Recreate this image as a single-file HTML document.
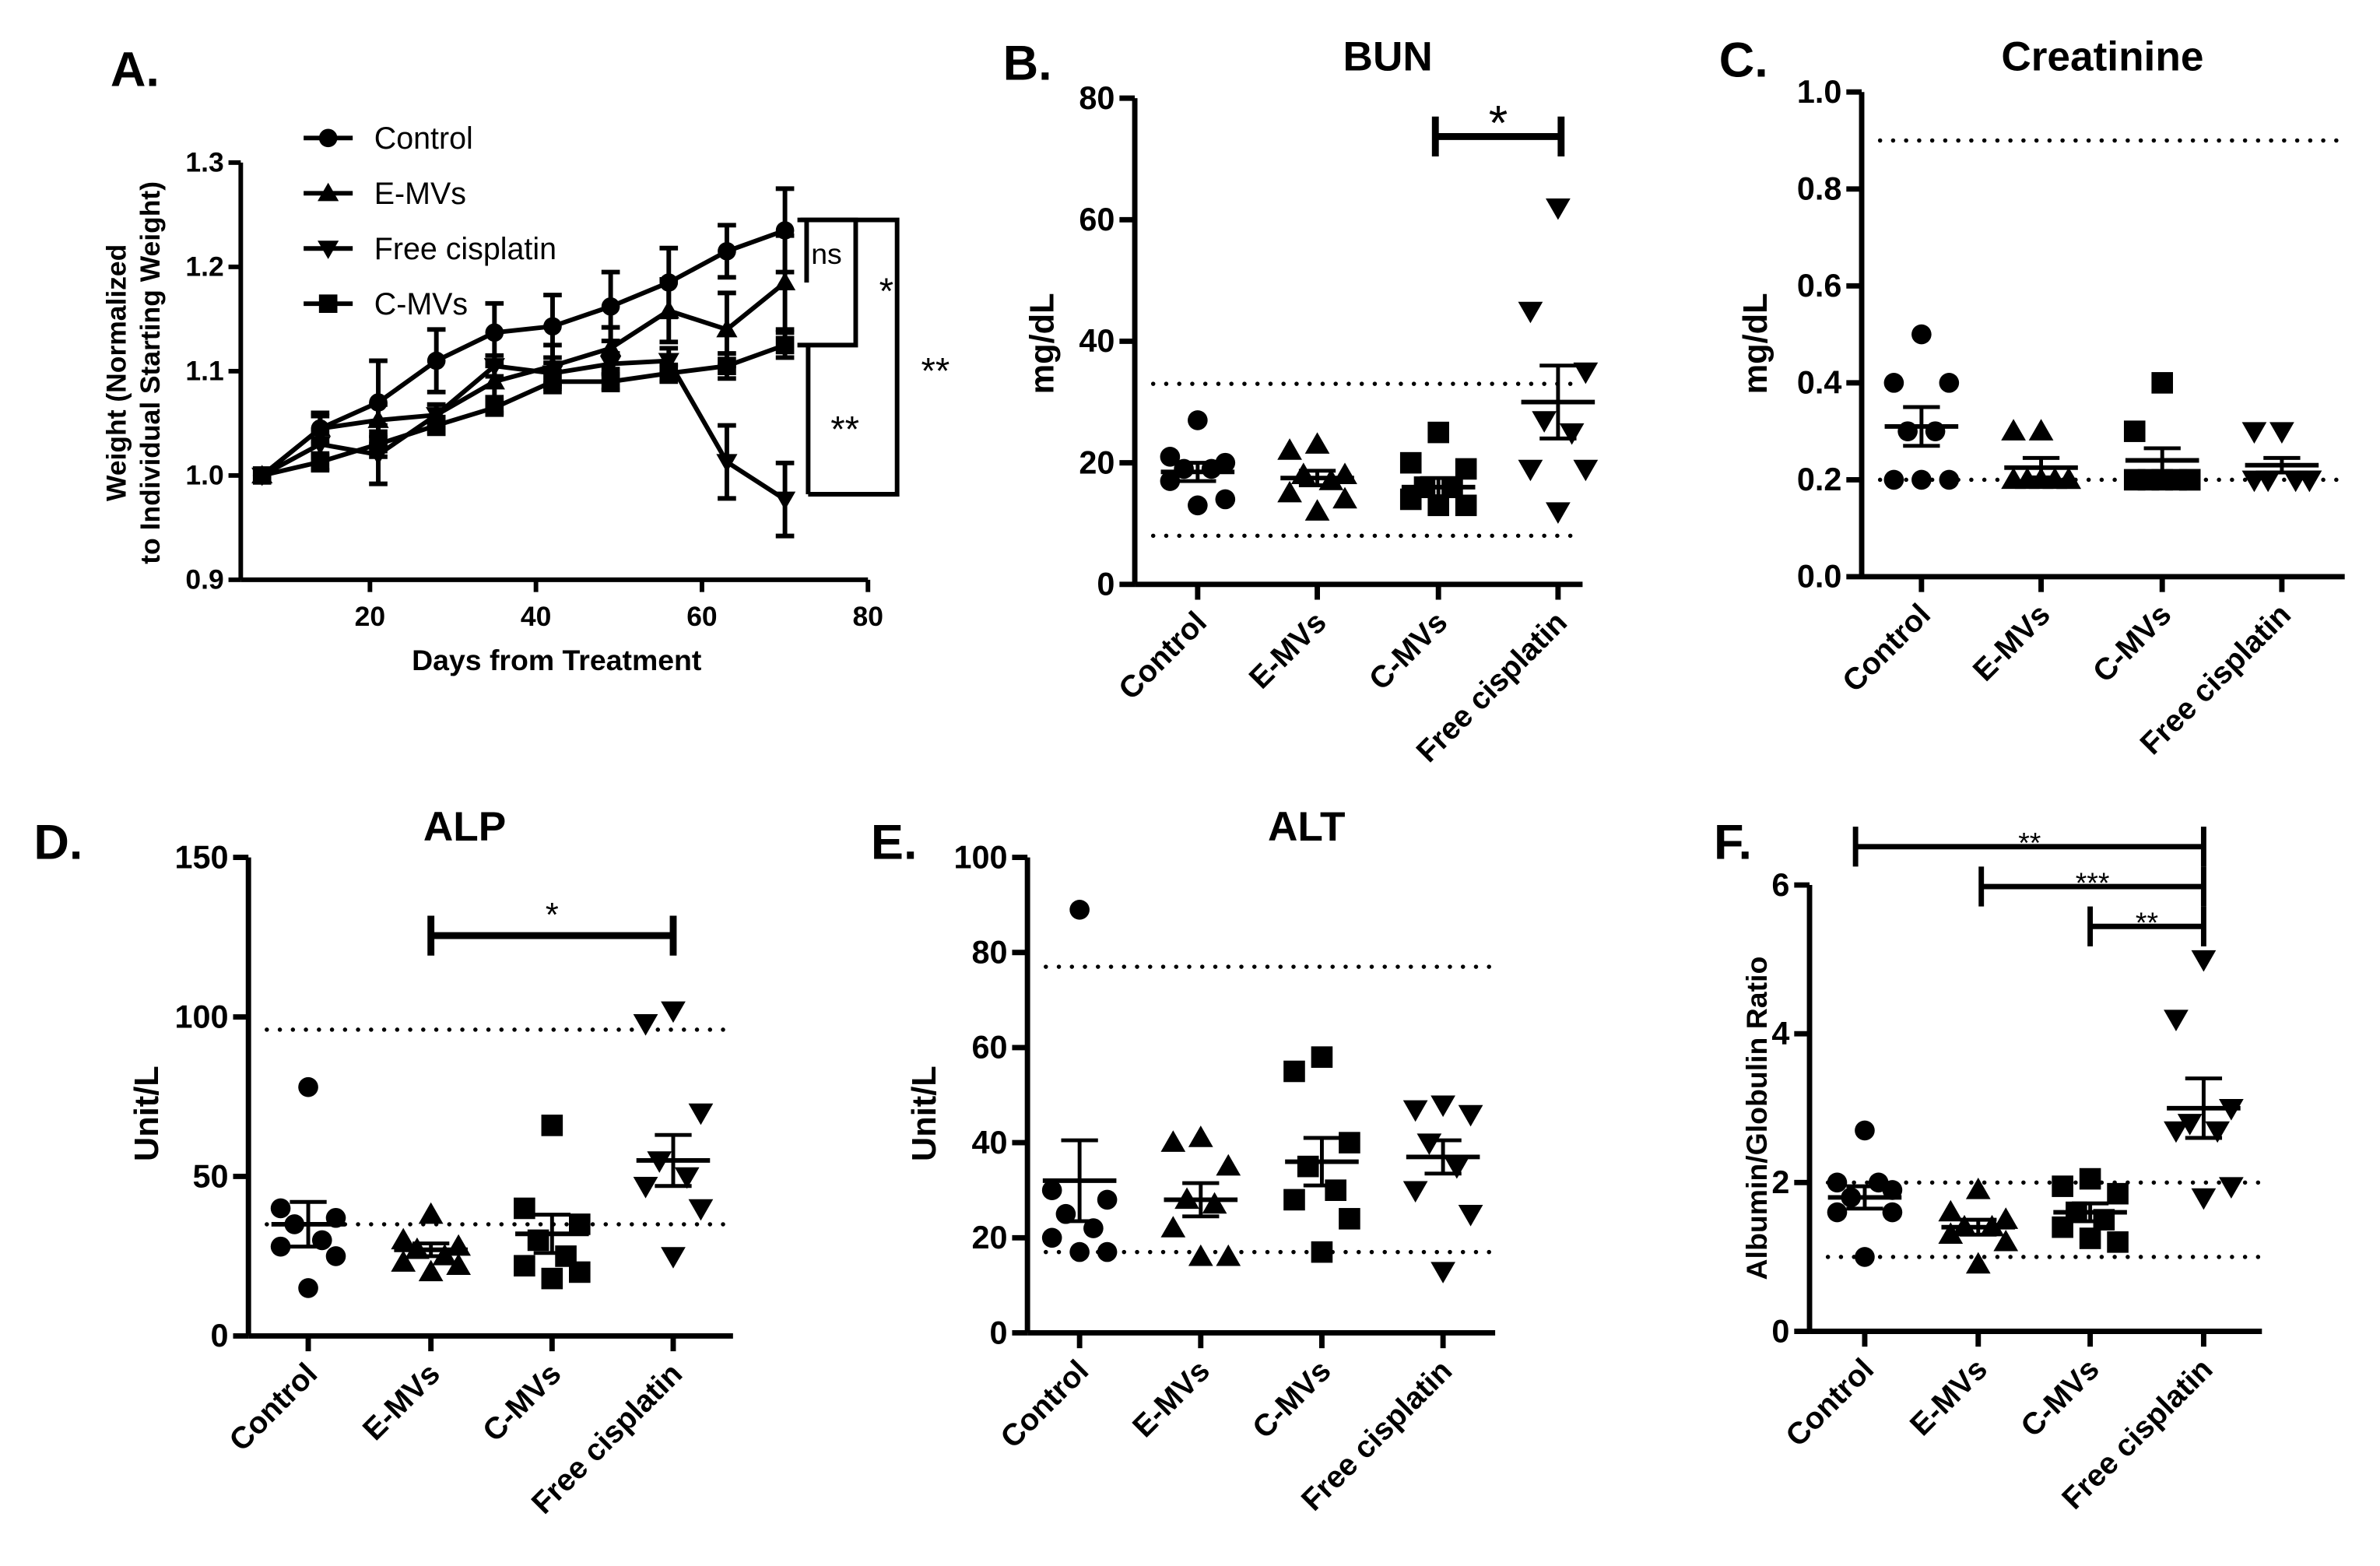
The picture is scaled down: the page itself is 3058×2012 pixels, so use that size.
<!DOCTYPE html>
<html><head><meta charset="utf-8"><style>
html,body{margin:0;padding:0;background:#fff;}
svg{display:block;font-family:"Liberation Sans",Arial,sans-serif;font-weight:bold;}
</style></head><body>
<svg id="fig" xmlns="http://www.w3.org/2000/svg" width="3058" height="2012" viewBox="0 0 1552 1021" preserveAspectRatio="none"></svg>
<script>
// ---------- Panel A data ----------
const daysA = [7,14,21,28,35,42,49,56,63,70];
const seriesNamesA = ["Control","E-MVs","Free cisplatin","C-MVs"];
const controlA = [1.0,1.045,1.07,1.11,1.137,1.143,1.162,1.185,1.215,1.235];
const controlErrA = [0,0.015,0.04,0.03,0.028,0.03,0.033,0.033,0.025,0.04];
const emvA = [1.0,1.045,1.053,1.058,1.09,1.105,1.122,1.158,1.14,1.185];
const emvErrA = [0,0.012,0.015,0.01,0.015,0.02,0.02,0.03,0.035,0.045];
const freeA = [1.0,1.03,1.02,1.058,1.105,1.098,1.107,1.11,1.013,0.977];
const freeErrA = [0,0.012,0.028,0.01,0.01,0.01,0.01,0.012,0.035,0.035];
const cmvA = [1.0,1.013,1.03,1.048,1.065,1.09,1.09,1.098,1.105,1.125];
const cmvErrA = [0,0.008,0.012,0.008,0.005,0.01,0.008,0.008,0.012,0.012];
const yTicksA = [0.9,1.0,1.1,1.2,1.3];
const xTicksA = [20,40,60,80];

// ---------- Scatter panel data ----------
const groups = ["Control","E-MVs","C-MVs","Free cisplatin"];
const bunControl = [27,21,20,19,19,17,14,13];
const bunEmv = [23,22,18,18,17,15,14,12];
const bunCmv = [25,20,19,16,16,14,13,13];
const bunFree = [62,45,35,27,25,19,19,12];
const bunMean = [18.5,17.5,16,30];
const bunSem = [1.5,1.2,1.5,6];
const creControl = [0.5,0.4,0.4,0.3,0.3,0.2,0.2,0.2];
const creEmv = [0.3,0.3,0.2,0.2,0.2,0.2,0.2,0.2];
const creCmv = [0.4,0.3,0.2,0.2,0.2,0.2,0.2,0.2];
const creFree = [0.3,0.3,0.2,0.2,0.2,0.2,0.2];
const creMean = [0.31,0.225,0.24,0.23];
const creSem = [0.04,0.02,0.025,0.015];
const alpControl = [78,40,37,35,30,28,25,15];
const alpEmv = [38,30,28,27,25,23,22,20];
const alpCmv = [66,40,35,30,25,22,20,18];
const alpFree = [102,98,70,55,50,47,40,25];
const alpMean = [35,27,32,55];
const alpSem = [7,2,6,8];
const altControl = [89,30,28,25,22,20,17,17];
const altEmv = [41,40,35,28,27,22,16,16];
const altCmv = [58,55,40,35,30,28,24,17];
const altFree = [48,47,46,40,35,30,25,13];
const altMean = [32,28,36,37];
const altSem = [8.5,3.5,5,3.5];
const agControl = [2.7,2.0,1.9,1.8,2.0,1.6,1.6,1.0];
const agEmv = [1.9,1.6,1.5,1.4,1.4,1.3,1.2,0.9];
const agCmv = [2.05,1.95,1.85,1.6,1.5,1.4,1.2,1.25];
const agFree = [5.0,4.2,3.0,2.8,2.7,2.7,1.95,1.8];
const agMean = [1.8,1.4,1.6,3.0];
const agSem = [0.15,0.1,0.12,0.4];

const svg = document.getElementById('fig');
const NS = 'http://www.w3.org/2000/svg';
function mk(tag, attrs, parent, text){
  const e = document.createElementNS(NS, tag);
  for (const k in attrs) e.setAttribute(k, attrs[k]);
  if (text !== undefined) e.textContent = text;
  (parent||svg).appendChild(e);
  return e;
}
function line(x1,y1,x2,y2,w,p,extra){return mk('line',Object.assign({x1,y1,x2,y2,stroke:'#000','stroke-width':w},extra||{}),p);}
function txt(x,y,s,size,p,extra){return mk('text',Object.assign({x,y,'font-size':size,fill:'#000','text-anchor':'middle'},extra||{}),p,s);}
function marker(shape,x,y,r,p){
  if(shape==='circle') return mk('circle',{cx:x,cy:y,r:r,fill:'#000'},p);
  if(shape==='square') return mk('rect',{x:x-r,y:y-r,width:2*r,height:2*r,fill:'#000'},p);
  if(shape==='up') return mk('polygon',{points:`${x},${y-r*1.15} ${x-r*1.15},${y+r*0.85} ${x+r*1.15},${y+r*0.85}`,fill:'#000'},p);
  return mk('polygon',{points:`${x},${y+r*1.15} ${x-r*1.15},${y-r*0.85} ${x+r*1.15},${y-r*0.85}`,fill:'#000'},p);
}
function fmt(v,dec){return v.toFixed(dec);}

// ---------- Panel A ----------
(function(){
  const g = mk('g',{});  
  const X0=157, X1=566, YB=378, YT=106;
  const xs = d => 133 + d*(566-133)/80;
  const ys = v => YB - (v-0.9)/(0.4)*(YB-YT);
  const lbl = txt(88,56,'A.',32,g);  
  const ya = line(X0,YT,X0,YB,3,g);  
  const xa = line(X0,YB,X1,YB,3,g);  
  yTicksA.forEach(v=>{const y=ys(v); line(X0-8,y,X0,y,3,g);
    const t=txt(X0-11,y+6,fmt(v,1),18,g,{'text-anchor':'end'});  });
  xTicksA.forEach(v=>{const x=xs(v); line(x,YB,x,YB+8,3,g);
    const t=txt(x,YB+30,String(v),18,g);  });
  const xt=txt(363,437,'Days from Treatment',19,g);  
  const yt1=txt(0,0,'Weight (Normalized',18,g,{transform:'translate(82,243) rotate(-90)'});  
  const yt2=txt(0,0,'to Individual Starting Weight)',18,g,{transform:'translate(104,243) rotate(-90)'});  
  const all=[[controlA,controlErrA,'circle'],[emvA,emvErrA,'up'],[freeA,freeErrA,'down'],[cmvA,cmvErrA,'square']];
  all.forEach((s,si)=>{
    const sg=mk('g',{},g);  
    const pts=daysA.map((d,i)=>xs(d)+','+ys(s[0][i])).join(' ');
    mk('polyline',{points:pts,fill:'none',stroke:'#000','stroke-width':3},sg);
    daysA.forEach((d,i)=>{const x=xs(d),e=s[1][i]; if(e>0){const y1=ys(s[0][i]+e),y2=ys(s[0][i]-e);
      line(x,y1,x,y2,3,sg); line(x-6,y1,x+6,y1,3,sg); line(x-6,y2,x+6,y2,3,sg);}
      const m=marker(s[2],x,ys(s[0][i]),6,sg);  });
  });
  const ly=[90,126,162,198];
  seriesNamesA.forEach((n,i)=>{
    const lg=mk('g',{},g);  
    line(198,ly[i],230,ly[i],3,lg); marker(all[i][2],214,ly[i],6,lg);
    txt(244,ly[i]+7,n,20,lg,{'text-anchor':'start','font-weight':'normal'});
  });
  const bg=mk('g',{fill:'none',stroke:'#000','stroke-width':3},g);  
  mk('polyline',{points:`520,${ys(1.245)} 558,${ys(1.245)} 558,${ys(1.125)} 520,${ys(1.125)}`},bg);
  mk('polyline',{points:`522,${ys(1.245)} 585,${ys(1.245)} 585,${ys(0.982)} 527,${ys(0.982)}`},bg);
  mk('polyline',{points:`527,${ys(1.125)} 527,${ys(0.982)}`},bg);
  line(526,ys(1.245),526,ys(1.185),3,g);
  txt(539,172,'ns',19,g,{'font-weight':'normal'});
  txt(578,198,'*',24,g,{'font-weight':'normal'});
  txt(551,288,'**',24,g,{'font-weight':'normal'});
  txt(610,250,'**',24,g,{'font-weight':'normal'});
})();

// ---------- Scatter panels ----------
const shapes=['circle','up','square','down'];
const jit=[0,-18,18,-9,9,-18,18,0];
function scatterPanel(cfg){
  const g=mk('g',{});  
  const ys=v=>cfg.yb-(v/cfg.ymax)*(cfg.yb-cfg.yt);
  const pl=txt(cfg.label[0],cfg.label[1],cfg.label[2],32,g);  
  if(cfg.title){const t=txt(cfg.title[0],cfg.title[1],cfg.title[2],27,g);  }
  const yt=txt(0,0,cfg.ylabel,cfg.ylfs||22,g,{transform:`translate(${cfg.ylx},${cfg.yly}) rotate(-90)`});  
  const ya=line(cfg.x0,cfg.yt,cfg.x0,cfg.yb,3.5,g);  
  const xa=line(cfg.x0,cfg.yb,cfg.x1,cfg.yb,3.5,g);  
  cfg.ticks.forEach(v=>{const y=ys(v); line(cfg.x0-10,y,cfg.x0,y,3.5,g);
    const t=txt(cfg.x0-13,y+7,fmt(v,cfg.dec),21,g,{'text-anchor':'end'});  });
  cfg.dotted.forEach(v=>{const d=line(cfg.x0+12,ys(v),cfg.x1,ys(v),2.8,g,{'stroke-dasharray':'0 8.5','stroke-linecap':'round'});  });
  groups.forEach((gn,gi)=>{
    const cx=cfg.cats[gi];
    line(cx,cfg.yb,cx,cfg.yb+10,3.5,g);
    const t=txt(0,0,gn,20,g,{'text-anchor':'end',transform:`translate(${cx+7},${cfg.yb+26}) rotate(-45)`});  
    const sg=mk('g',{},g);  
    cfg.data[gi].forEach((v,i)=>{const m=marker(shapes[gi],cx+jit[i%8],ys(v),gi===0?6.5:7,sg);  });
    const mu=cfg.mean[gi], se=cfg.sem[gi];
    const ml=line(cx-24,ys(mu),cx+24,ys(mu),3,sg);  
    line(cx,ys(mu+se),cx,ys(mu-se),2.5,sg);
    line(cx-12,ys(mu+se),cx+12,ys(mu+se),2.5,sg);
    line(cx-12,ys(mu-se),cx+12,ys(mu-se),2.5,sg);
  });
  (cfg.sig||[]).forEach(s=>{
    const bg=mk('g',{},g);  
    line(s.a,s.y,s.b,s.y,s.w,bg); line(s.a,s.y-s.h,s.a,s.y+s.h,s.w,bg); line(s.b,s.y-s.h,s.b,s.y+s.h,s.w,bg);
    txt((s.a+s.b)/2+(s.dx||0),s.y-s.ty,s.t,s.fs,bg,{'font-weight':'normal'});
  });
}
scatterPanel({name:'panel-b-bun',label:[670,52,'B.'],title:[905,46,'BUN'],ylabel:'mg/dL',ylx:687,yly:224,
  x0:740,x1:1032,yt:64,yb:381,ymax:80,ticks:[0,20,40,60,80],dec:0,cats:[781,859,938,1016],dotted:[33,8],
  data:[bunControl,bunEmv,bunCmv,bunFree],mean:bunMean,sem:bunSem,
  sig:[{a:936,b:1018,y:89,h:13,w:4.5,t:'*',ty:-2,fs:32}]});
scatterPanel({name:'panel-c-creatinine',label:[1137,50,'C.'],title:[1371,46,'Creatinine'],ylabel:'mg/dL',ylx:1152,yly:224,
  x0:1214,x1:1529,yt:60,yb:376,ymax:1.0,ticks:[0,0.2,0.4,0.6,0.8,1.0],dec:1,cats:[1253,1331,1410,1488],dotted:[0.9,0.2],
  data:[creControl,creEmv,creCmv,creFree],mean:creMean,sem:creSem});
scatterPanel({name:'panel-d-alp',label:[38,560,'D.'],title:[303,548,'ALP'],ylabel:'Unit/L',ylx:103,yly:726,
  x0:162,x1:478,yt:559,yb:871,ymax:150,ticks:[0,50,100,150],dec:0,cats:[201,281,360,439],dotted:[96,35],
  data:[alpControl,alpEmv,alpCmv,alpFree],mean:alpMean,sem:alpSem,
  sig:[{a:281,b:439,y:610,h:13,w:4.5,t:'*',ty:6,fs:22}]});
scatterPanel({name:'panel-e-alt',label:[583,560,'E.'],title:[852,548,'ALT'],ylabel:'Unit/L',ylx:610,yly:726,
  x0:670,x1:975,yt:559,yb:869,ymax:100,ticks:[0,20,40,60,80,100],dec:0,cats:[704,783,862,941],dotted:[77,17],
  data:[altControl,altEmv,altCmv,altFree],mean:altMean,sem:altSem});
scatterPanel({name:'panel-f-albumin-globulin',label:[1130,560,'F.'],title:null,ylabel:'Albumin/Globulin Ratio',ylx:1152,yly:729,ylfs:19,
  x0:1180,x1:1475,yt:577,yb:868,ymax:6,ticks:[0,2,4,6],dec:0,cats:[1216,1290,1363,1437],dotted:[2,1],
  data:[agControl,agEmv,agCmv,agFree],mean:agMean,sem:agSem,
  sig:[{a:1210,b:1437,y:552,h:13,w:3.5,t:'**',ty:-4,fs:19},
       {a:1292,b:1437,y:578,h:13,w:3.5,t:'***',ty:-4,fs:19},
       {a:1363,b:1437,y:604,h:13,w:3.5,t:'**',ty:-4,fs:19}]});
</script>
</body></html>
